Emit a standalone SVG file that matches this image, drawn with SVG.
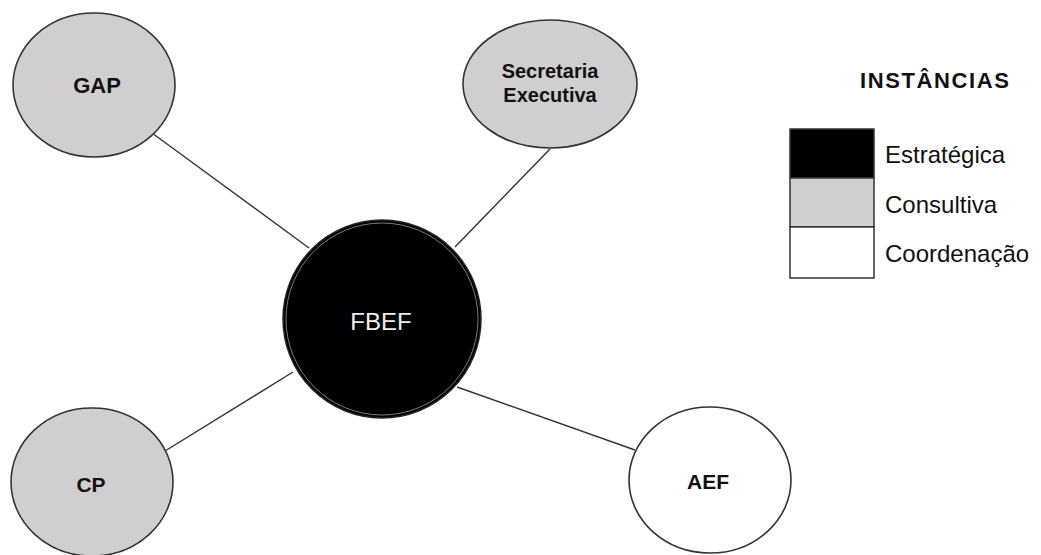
<svg xmlns="http://www.w3.org/2000/svg" width="1041" height="555" viewBox="0 0 1041 555">
<style>
.node{stroke:#333;stroke-width:1.6}
.cons{fill:#d0cece}
.coord{fill:#ffffff}
.lbl{font-family:"Liberation Sans",Arial,sans-serif;font-weight:bold;font-size:21px;fill:#111;text-anchor:middle}
.leg{font-family:"Liberation Sans",Arial,sans-serif;font-size:24px;fill:#111}
.conn line{stroke:#333;stroke-width:1.4}
</style>
<rect width="1041" height="555" fill="#ffffff"/>
<g class="conn" id="connectors">
<line x1="152" y1="133" x2="309" y2="248"/>
<line x1="550" y1="149" x2="455" y2="247"/>
<line x1="165" y1="451" x2="293" y2="372"/>
<line x1="635" y1="450" x2="457" y2="387"/>
</g>
<g id="gap">
<ellipse class="node cons" cx="94" cy="85" rx="81" ry="72"/>
<text class="lbl" x="97" y="93" style="font-size:22px">GAP</text>
</g>
<g id="secretaria">
<ellipse class="node cons" cx="550" cy="84" rx="87" ry="64"/>
<text class="lbl" x="550" y="78" style="font-size:20px">Secretaria</text>
<text class="lbl" x="550" y="102" style="font-size:20px">Executiva</text>
</g>
<g id="fbef">
<circle cx="382" cy="319" r="99" fill="#000" stroke="#222" stroke-width="1.5"/>
<circle cx="382" cy="319" r="96" fill="none" stroke="#9a9a9a" stroke-width="0.8"/>
<text x="381" y="330" style="font-family:'Liberation Sans',Arial,sans-serif;font-size:24px;fill:#eeeeee;text-anchor:middle">FBEF</text>
</g>
<g id="cp">
<ellipse class="node cons" cx="92" cy="482" rx="81" ry="74"/>
<text class="lbl" x="91" y="492">CP</text>
</g>
<g id="aef">
<ellipse class="node coord" cx="710" cy="480" rx="81" ry="73"/>
<text class="lbl" x="708" y="489">AEF</text>
</g>
<g id="legend">
<text x="860" y="88" style="font-family:'Liberation Sans',Arial,sans-serif;font-weight:bold;font-size:22px;fill:#111;letter-spacing:1.6px">INSTÂNCIAS</text>
<rect x="790" y="129" width="84" height="49" fill="#000" stroke="#333" stroke-width="1.5"/>
<rect x="790" y="178" width="84" height="49" fill="#d0cece" stroke="#333" stroke-width="1.5"/>
<rect x="790" y="227" width="84" height="51" fill="#fff" stroke="#333" stroke-width="1.5"/>
<text class="leg" x="885" y="163">Estratégica</text>
<text class="leg" x="885" y="213">Consultiva</text>
<text class="leg" x="885" y="262">Coordenação</text>
</g>
</svg>
